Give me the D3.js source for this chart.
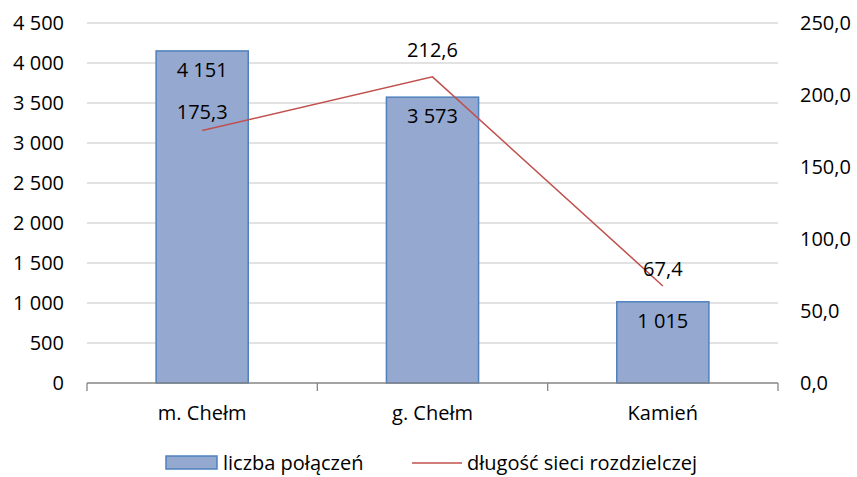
<!DOCTYPE html>
<html>
<head>
<meta charset="utf-8">
<script src="https://cdn.jsdelivr.net/npm/d3@7"></script>
<style>
  body { margin: 0; background: #fff; }
  svg { font-family: "Open Sans", sans-serif; }
</style>
</head>
<body>
<svg id="chart"></svg>
<script>
// data
const categories = ["m. Chełm", "g. Chełm", "Kamień"];
const connections = [4151, 3573, 1015];       // liczba połączeń
const networkLength = [175.3, 212.6, 67.4];   // długość sieci rozdzielczej
const leftTicks = [0, 500, 1000, 1500, 2000, 2500, 3000, 3500, 4000, 4500];
const rightTicks = [0, 50, 100, 150, 200, 250];
const seriesNames = ["liczba połączeń", "długość sieci rozdzielczej"];

const width = 857, height = 477;
const marginLeft = 87, marginRight = 79, marginTop = 23, marginBottom = 94;
const fontSize = 20;

const svg = d3.select("#chart")
    .attr("width", width)
    .attr("height", height)
    .attr("viewBox", [0, 0, width, height]);

const x = d3.scaleBand(categories, [marginLeft, width - marginRight])
    .paddingInner(0.6)
    .paddingOuter(0.3);
const xOuter = d3.scaleBand(categories, [marginLeft, width - marginRight]);
const yLeft = d3.scaleLinear([0, 4500], [height - marginBottom, marginTop]);
const yRight = d3.scaleLinear([0, 250], [height - marginBottom, marginTop]);

const fmtInt = d3.formatLocale({decimal: ",", thousands: " ", grouping: [3], currency: ["", ""]}).format(",d");
const fmtDec = v => d3.format(".1f")(v).replace(".", ",");

// grid lines
svg.append("g")
  .selectAll("line")
  .data(leftTicks.slice(1))
  .join("line")
    .attr("x1", marginLeft)
    .attr("x2", width - marginRight)
    .attr("y1", d => yLeft(d))
    .attr("y2", d => yLeft(d))
    .attr("stroke", "#d9d9d9")
    .attr("stroke-width", 1.3);

// left axis labels
svg.append("g")
  .selectAll("text")
  .data(leftTicks)
  .join("text")
    .attr("x", 64)
    .attr("y", d => yLeft(d))
    .attr("dy", "0.35em")
    .attr("text-anchor", "end")
    .attr("font-size", fontSize)
    .attr("fill", "#000")
    .text(d => fmtInt(d));

// right axis labels
svg.append("g")
  .selectAll("text")
  .data(rightTicks)
  .join("text")
    .attr("x", 800)
    .attr("y", d => yRight(d))
    .attr("dy", "0.35em")
    .attr("text-anchor", "start")
    .attr("font-size", fontSize)
    .attr("fill", "#000")
    .text(d => fmtDec(d));

// bars
svg.append("g")
  .selectAll("rect")
  .data(categories)
  .join("rect")
    .attr("x", d => x(d))
    .attr("y", (d, i) => yLeft(connections[i]))
    .attr("width", x.bandwidth())
    .attr("height", (d, i) => yLeft(0) - yLeft(connections[i]))
    .attr("fill", "#95a8d0")
    .attr("stroke", "#4f81bd")
    .attr("stroke-width", 1.5);

// bar labels
svg.append("g")
  .selectAll("text")
  .data(categories)
  .join("text")
    .attr("x", d => x(d) + x.bandwidth() / 2)
    .attr("y", (d, i) => yLeft(connections[i]) + 19)
    .attr("dy", "0.35em")
    .attr("text-anchor", "middle")
    .attr("font-size", fontSize)
    .text((d, i) => fmtInt(connections[i]));

// x axis
const xAxisY = yLeft(0);
const axis = svg.append("g");
axis.append("line")
    .attr("x1", marginLeft)
    .attr("x2", width - marginRight)
    .attr("y1", xAxisY)
    .attr("y2", xAxisY)
    .attr("stroke", "#868686")
    .attr("stroke-width", 1.3);
axis.selectAll(".tick")
  .data([...categories.map(c => xOuter(c)), width - marginRight])
  .join("line")
    .attr("class", "tick")
    .attr("x1", d => d)
    .attr("x2", d => d)
    .attr("y1", xAxisY)
    .attr("y2", xAxisY + 8)
    .attr("stroke", "#868686")
    .attr("stroke-width", 1.3);
axis.selectAll("text")
  .data(categories)
  .join("text")
    .attr("x", d => x(d) + x.bandwidth() / 2)
    .attr("y", 413)
    .attr("dy", "0.35em")
    .attr("text-anchor", "middle")
    .attr("font-size", fontSize)
    .text(d => d);

// line series
const line = d3.line()
    .x((d, i) => x(categories[i]) + x.bandwidth() / 2)
    .y(d => yRight(d));
svg.append("path")
    .datum(networkLength)
    .attr("d", line)
    .attr("fill", "none")
    .attr("stroke", "#c0504d")
    .attr("stroke-width", 1.5);

// line labels (Excel pushed the middle one a bit higher)
const lineLabelOffset = [19, 27, 17];
svg.append("g")
  .selectAll("text")
  .data(networkLength)
  .join("text")
    .attr("x", (d, i) => x(categories[i]) + x.bandwidth() / 2)
    .attr("y", (d, i) => yRight(d) - lineLabelOffset[i])
    .attr("dy", "0.35em")
    .attr("text-anchor", "middle")
    .attr("font-size", fontSize)
    .text(d => fmtDec(d));

// legend (kept just inside the bottom edge)
const legendY = 463;
const legend = svg.append("g");
legend.append("rect")
    .attr("x", 166).attr("y", legendY - 7)
    .attr("width", 51).attr("height", 13)
    .attr("fill", "#95a8d0")
    .attr("stroke", "#4f81bd")
    .attr("stroke-width", 1.5);
legend.append("text")
    .attr("x", 223).attr("y", legendY)
    .attr("dy", "0.35em")
    .attr("font-size", fontSize)
    .text(seriesNames[0]);
legend.append("line")
    .attr("x1", 412).attr("x2", 462)
    .attr("y1", legendY).attr("y2", legendY)
    .attr("stroke", "#c0504d")
    .attr("stroke-width", 1.5);
legend.append("text")
    .attr("x", 467).attr("y", legendY)
    .attr("dy", "0.35em")
    .attr("font-size", fontSize)
    .text(seriesNames[1]);
</script>
</body>
</html>
